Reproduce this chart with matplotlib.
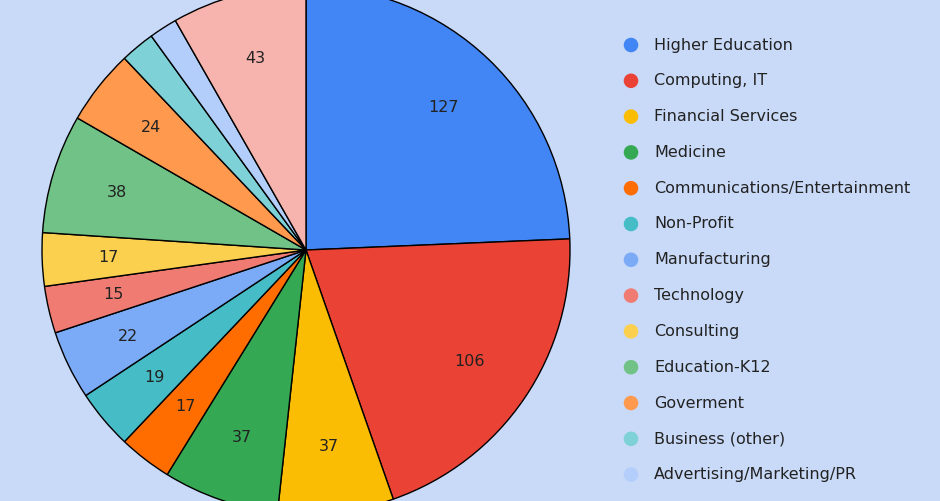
import matplotlib.pyplot as plt

labels = ["Higher Education", "Computing, IT", "Financial Services", "Medicine",
          "Communications/Entertainment", "Non-Profit", "Manufacturing", "Technology",
          "Consulting", "Education-K12", "Goverment", "Business (other)",
          "Advertising/Marketing/PR", "Other"]
values = [127, 106, 37, 37, 17, 19, 22, 15, 17, 38, 24, 11, 9, 43]
colors = ["#4285f4", "#ea4335", "#fbbc04", "#34a853", "#ff6d01", "#46bdc6", "#7baaf7",
          "#f07b72", "#fcd04f", "#71c287", "#ff994d", "#7ed1d7", "#b3cefb", "#f7b4ae"]
bg = "#c9daf8"

fig = plt.figure(figsize=(9.4, 5.01), dpi=100, facecolor=bg)
ax = fig.add_axes([42/940, -13/501, 528/940, 528/501])
ax.set_facecolor(bg)
wedges, _ = ax.pie(values, colors=colors, startangle=90, counterclock=False,
                   wedgeprops=dict(edgecolor="black", linewidth=1))
import numpy as np
total = sum(values)
ang = 90.0
for v, w in zip(values, wedges):
    mid = ang - v / total * 180
    ang -= v / total * 360
    if v >= 15:
        r = 0.75
        ax.text(r*np.cos(np.radians(mid)), r*np.sin(np.radians(mid)), str(v),
                ha="center", va="center", fontsize=11.5, color="#222222")
ax.set_xlim(-1, 1); ax.set_ylim(-1, 1); ax.set_aspect("equal"); ax.axis("off")

lax = fig.add_axes([0, 0, 1, 1]); lax.axis("off")
lax.set_xlim(0, 940); lax.set_ylim(501, 0)
for i, lab in enumerate(labels[:13]):
    y = 45 + i * 35.8
    lax.scatter([631], [y], s=110, color=colors[i], edgecolors="none")
    lax.text(654, y, lab, va="center", ha="left", fontsize=11.5, color="#222222")
fig.savefig("out.png", dpi=100, facecolor=bg)
